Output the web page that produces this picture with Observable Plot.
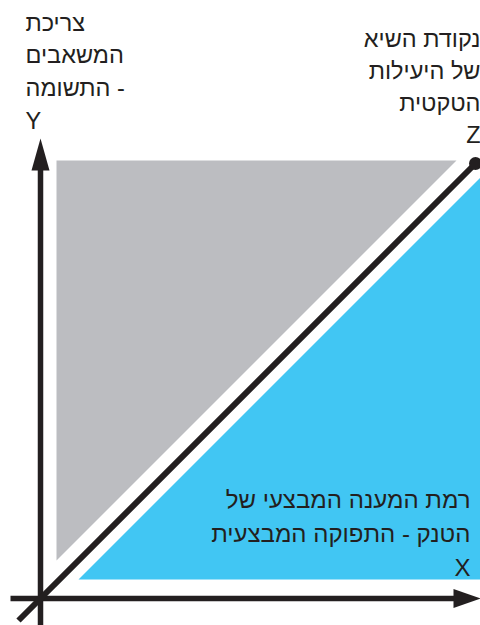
<!DOCTYPE html>
<html lang="he">
<head>
<meta charset="utf-8">
<script src="https://cdn.jsdelivr.net/npm/d3@7"></script>
<script src="https://cdn.jsdelivr.net/npm/@observablehq/plot@0.6"></script>
<style>
  html, body { margin: 0; padding: 0; background: #ffffff; }
  #chart { width: 480px; height: 625px; overflow: hidden; }
</style>
</head>
<body>
<div id="chart"></div>
<script>
// Diagram values (conceptual units, origin at the axes' intersection)
const grayTriangle = [[16, 38], [16, 438], [416, 438]];   // resource consumption region
const blueTriangle = [[38, 19], [440, 19], [440, 421]];   // output region
const diagonal = [[-22, -22], [435, 435]];                 // efficiency line
const peakPoint = [[435, 435]];                            // Z
const yAxisLine = [[0, -27], [0, 432]];
const xAxisLine = [[-30, 0], [416, 0]];
const yArrowHead = [[-9, 428], [0, 460], [9, 428]];
const xArrowHead = [[413, -9.5], [440, 0], [413, 9.5]];

// Labels
const yLabelLines = ["צריכת", "המשאבים", "- התשומה", "Y"];
const zLabelLines = ["נקודת השיא", "של היעילות", "הטקטית", "Z"];
const xLabelLines = ["רמת המענה המבצעי של", "הטנק - התפוקה המבצעית", "X"];

const ink = "#231f20";
const font = "'Liberation Sans', 'DejaVu Sans', sans-serif";
const px = d => d[0], py = d => d[1];

const chart = Plot.plot({
  width: 480,
  height: 625,
  margin: 0,
  x: {domain: [-40, 440], axis: null},
  y: {domain: [-27, 598], axis: null},
  style: {fontFamily: font, direction: "rtl", background: "#ffffff", overflow: "hidden"},
  marks: [
    Plot.line(grayTriangle, {x: px, y: py, fill: "#bcbdc1", stroke: "none", curve: "linear-closed"}),
    Plot.line(blueTriangle, {x: px, y: py, fill: "#41c6f3", stroke: "none", curve: "linear-closed"}),
    Plot.line(yAxisLine, {x: px, y: py, stroke: ink, strokeWidth: 5.5, strokeLinecap: "butt"}),
    Plot.line(xAxisLine, {x: px, y: py, stroke: ink, strokeWidth: 5.5, strokeLinecap: "butt"}),
    Plot.line(yArrowHead, {x: px, y: py, fill: ink, stroke: "none", curve: "linear-closed"}),
    Plot.line(xArrowHead, {x: px, y: py, fill: ink, stroke: "none", curve: "linear-closed"}),
    Plot.line(diagonal, {x: px, y: py, stroke: ink, strokeWidth: 6, strokeLinecap: "butt"}),
    Plot.dot(peakPoint, {x: px, y: py, r: 6.5, fill: ink, stroke: "none"}),
    Plot.text([yLabelLines.join("\n")], {
      frameAnchor: "top-left", dx: 25, dy: 7, lineAnchor: "top", textAnchor: "end",
      fontSize: 23.5, lineHeight: 1.39, fill: ink, fontFamily: font
    }),
    Plot.text([zLabelLines.join("\n")], {
      frameAnchor: "top-right", dx: 0, dy: 24, lineAnchor: "top", textAnchor: "start",
      fontSize: 23.5, lineHeight: 1.36, fill: ink, fontFamily: font
    }),
    Plot.text([xLabelLines.join("\n")], {
      frameAnchor: "top-left", dx: 470, dy: 484, lineAnchor: "top", textAnchor: "start",
      fontSize: 24, lineHeight: 1.4, fill: ink, fontFamily: font
    })
  ]
});
document.getElementById("chart").appendChild(chart);
</script>
</body>
</html>
